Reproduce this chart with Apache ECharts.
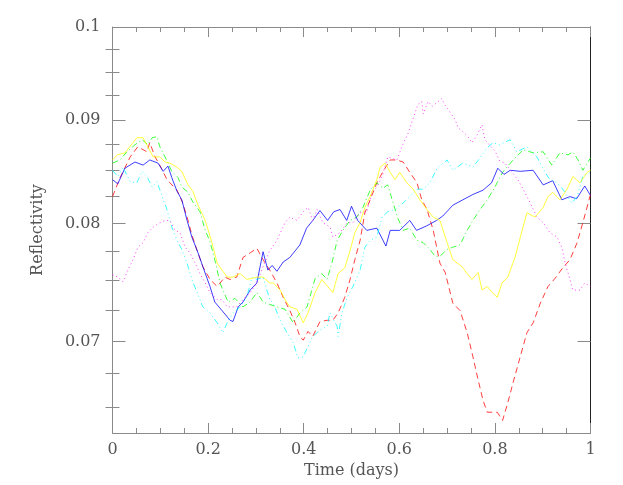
<!DOCTYPE html>
<html>
<head>
<meta charset="utf-8">
<script src="https://cdn.jsdelivr.net/npm/echarts@6/dist/echarts.min.js"></script>
<style>html,body{margin:0;padding:0;background:#fff}#c{width:623px;height:485px}</style>
</head>
<body>
<div id="c"></div>
<script>
// Each series: time (days) and reflectivity values
const blueT = [0,0.011,0.026,0.047,0.064,0.078,0.095,0.106,0.116,0.124,0.135,0.145,0.156,0.166,0.179,0.189,0.204,0.214,0.229,0.246,0.252,0.263,0.273,0.288,0.302,0.315,0.325,0.334,0.344,0.357,0.371,0.392,0.406,0.419,0.434,0.450,0.463,0.476,0.490,0.500,0.513,0.532,0.553,0.572,0.581,0.601,0.622,0.636,0.657,0.678,0.691,0.712,0.733,0.754,0.775,0.793,0.806,0.819,0.832,0.853,0.880,0.901,0.921,0.940,0.957,0.971,0.988,1];
const blueV = [0.0841,0.0837,0.0852,0.0858,0.0855,0.0860,0.0857,0.0849,0.0854,0.0843,0.0830,0.0822,0.0803,0.0788,0.0774,0.0762,0.0745,0.0732,0.0725,0.0717,0.0716,0.0728,0.0732,0.0742,0.0748,0.0775,0.0759,0.0763,0.0758,0.0766,0.0770,0.0781,0.0796,0.0803,0.0812,0.0803,0.0811,0.0813,0.0803,0.0816,0.0803,0.0794,0.0796,0.0780,0.0794,0.0794,0.0803,0.0794,0.0798,0.0803,0.0807,0.0817,0.0822,0.0827,0.0831,0.0838,0.0852,0.0846,0.0850,0.0849,0.0850,0.0836,0.0840,0.0822,0.0825,0.0823,0.0835,0.0826];

const redT = [0,0.016,0.037,0.053,0.072,0.078,0.089,0.099,0.114,0.135,0.147,0.158,0.166,0.177,0.189,0.204,0.219,0.235,0.246,0.260,0.273,0.288,0.302,0.315,0.329,0.344,0.357,0.371,0.382,0.392,0.399,0.409,0.419,0.434,0.449,0.461,0.472,0.486,0.497,0.507,0.518,0.528,0.539,0.553,0.566,0.581,0.595,0.608,0.622,0.637,0.647,0.658,0.671,0.685,0.696,0.712,0.727,0.742,0.754,0.765,0.775,0.784,0.805,0.816,0.827,0.838,0.853,0.867,0.880,0.895,0.911,0.926,0.942,0.957,0.972,0.984,1];
const redV = [0.0825,0.0843,0.0863,0.0873,0.0868,0.0877,0.0863,0.0855,0.0841,0.0831,0.0819,0.0803,0.0790,0.0776,0.0762,0.0751,0.0745,0.0753,0.0751,0.0753,0.0770,0.0774,0.0778,0.0768,0.0759,0.0748,0.0736,0.0725,0.0715,0.0704,0.0701,0.0708,0.0704,0.0716,0.0717,0.0717,0.0723,0.0736,0.0751,0.0768,0.0785,0.0810,0.0822,0.0838,0.0849,0.0860,0.0860,0.0858,0.0848,0.0838,0.0822,0.0813,0.0794,0.0765,0.0757,0.0731,0.0725,0.0707,0.0688,0.0670,0.0655,0.0646,0.0646,0.0640,0.0653,0.0668,0.0688,0.0707,0.0715,0.0731,0.0745,0.0752,0.0761,0.0768,0.0783,0.0801,0.0827];

const greenT = [0,0.016,0.030,0.047,0.062,0.074,0.083,0.093,0.099,0.110,0.124,0.137,0.145,0.158,0.168,0.183,0.194,0.204,0.214,0.225,0.231,0.242,0.256,0.273,0.288,0.302,0.315,0.329,0.344,0.361,0.378,0.392,0.407,0.417,0.424,0.438,0.449,0.459,0.470,0.482,0.497,0.511,0.524,0.539,0.553,0.566,0.576,0.587,0.597,0.608,0.622,0.637,0.650,0.664,0.675,0.685,0.700,0.712,0.727,0.742,0.754,0.769,0.784,0.800,0.816,0.838,0.859,0.880,0.901,0.919,0.936,0.953,0.963,0.974,0.984,1];
const greenV = [0.0857,0.0860,0.0868,0.0875,0.0880,0.0875,0.0882,0.0883,0.0873,0.0863,0.0849,0.0843,0.0834,0.0829,0.0820,0.0811,0.0794,0.0784,0.0768,0.0748,0.0742,0.0732,0.0735,0.0728,0.0732,0.0740,0.0732,0.0730,0.0728,0.0726,0.0715,0.0723,0.0728,0.0742,0.0752,0.0756,0.0751,0.0765,0.0785,0.0794,0.0803,0.0806,0.0815,0.0831,0.0838,0.0833,0.0836,0.0819,0.0805,0.0794,0.0796,0.0785,0.0783,0.0777,0.0771,0.0771,0.0777,0.0779,0.0781,0.0794,0.0803,0.0813,0.0822,0.0834,0.0848,0.0860,0.0870,0.0867,0.0868,0.0855,0.0867,0.0865,0.0868,0.0860,0.0850,0.0862];

const yellowT = [0,0.010,0.026,0.043,0.051,0.064,0.068,0.085,0.099,0.110,0.120,0.135,0.145,0.158,0.168,0.179,0.194,0.208,0.219,0.229,0.240,0.252,0.267,0.281,0.302,0.315,0.329,0.336,0.351,0.361,0.371,0.386,0.399,0.409,0.424,0.438,0.450,0.461,0.472,0.486,0.497,0.507,0.518,0.528,0.539,0.553,0.560,0.570,0.581,0.591,0.601,0.616,0.629,0.643,0.658,0.671,0.685,0.700,0.712,0.731,0.742,0.752,0.765,0.773,0.784,0.794,0.805,0.815,0.827,0.842,0.857,0.867,0.884,0.901,0.911,0.921,0.936,0.951,0.963,0.978,0.993,1];
const yellowV = [0.0860,0.0865,0.0867,0.0877,0.0882,0.0882,0.0883,0.0863,0.0863,0.0858,0.0857,0.0853,0.0849,0.0836,0.0830,0.0817,0.0803,0.0783,0.0765,0.0759,0.0753,0.0753,0.0756,0.0751,0.0753,0.0753,0.0748,0.0748,0.0742,0.0734,0.0728,0.0726,0.0715,0.0723,0.0740,0.0751,0.0745,0.0740,0.0756,0.0761,0.0776,0.0792,0.0801,0.0815,0.0825,0.0841,0.0853,0.0857,0.0848,0.0841,0.0848,0.0838,0.0832,0.0822,0.0813,0.0806,0.0803,0.0783,0.0768,0.0762,0.0756,0.0751,0.0757,0.0742,0.0745,0.0740,0.0736,0.0748,0.0753,0.0770,0.0794,0.0810,0.0806,0.0815,0.0825,0.0829,0.0822,0.0832,0.0844,0.0838,0.0848,0.0850];

const cyanT = [0,0.011,0.022,0.037,0.051,0.062,0.072,0.083,0.093,0.104,0.114,0.124,0.135,0.145,0.156,0.166,0.177,0.189,0.204,0.219,0.231,0.242,0.252,0.267,0.281,0.292,0.302,0.315,0.329,0.336,0.351,0.365,0.378,0.388,0.399,0.409,0.419,0.434,0.449,0.455,0.470,0.472,0.480,0.491,0.503,0.518,0.528,0.539,0.553,0.564,0.576,0.591,0.608,0.622,0.637,0.650,0.664,0.679,0.700,0.712,0.733,0.754,0.769,0.784,0.796,0.810,0.832,0.846,0.867,0.888,0.905,0.915,0.930,0.942,0.961,0.972,0.984,1];
const cyanV = [0.0850,0.0844,0.0853,0.0839,0.0838,0.0849,0.0844,0.0834,0.0839,0.0825,0.0813,0.0797,0.0785,0.0777,0.0765,0.0751,0.0740,0.0728,0.0723,0.0715,0.0707,0.0717,0.0723,0.0728,0.0736,0.0753,0.0751,0.0753,0.0734,0.0731,0.0717,0.0707,0.0699,0.0687,0.0688,0.0696,0.0704,0.0709,0.0712,0.0723,0.0712,0.0704,0.0723,0.0736,0.0745,0.0759,0.0779,0.0785,0.0788,0.0806,0.0811,0.0813,0.0819,0.0825,0.0832,0.0832,0.0838,0.0852,0.0860,0.0850,0.0857,0.0853,0.0862,0.0872,0.0877,0.0875,0.0880,0.0868,0.0873,0.0863,0.0848,0.0841,0.0838,0.0832,0.0819,0.0825,0.0844,0.0848];

const magentaT = [0,0.011,0.022,0.032,0.043,0.053,0.064,0.074,0.085,0.099,0.110,0.120,0.131,0.141,0.152,0.162,0.173,0.183,0.194,0.204,0.219,0.229,0.240,0.250,0.260,0.273,0.288,0.302,0.315,0.329,0.344,0.361,0.371,0.386,0.399,0.409,0.419,0.428,0.440,0.455,0.461,0.476,0.491,0.503,0.518,0.532,0.543,0.553,0.564,0.576,0.595,0.608,0.618,0.628,0.639,0.647,0.650,0.660,0.669,0.679,0.689,0.696,0.706,0.717,0.723,0.733,0.742,0.752,0.763,0.773,0.779,0.790,0.800,0.810,0.821,0.836,0.848,0.859,0.874,0.888,0.901,0.915,0.930,0.940,0.947,0.957,0.963,0.978,0.988,1];
const magentaV = [0.0755,0.0753,0.0749,0.0759,0.0768,0.0779,0.0783,0.0792,0.0797,0.0801,0.0803,0.0803,0.0794,0.0792,0.0779,0.0774,0.0765,0.0756,0.0748,0.0740,0.0734,0.0734,0.0728,0.0728,0.0728,0.0734,0.0740,0.0748,0.0762,0.0776,0.0785,0.0801,0.0806,0.0803,0.0811,0.0815,0.0803,0.0813,0.0801,0.0797,0.0788,0.0792,0.0801,0.0801,0.0810,0.0811,0.0829,0.0834,0.0844,0.0863,0.0860,0.0876,0.0886,0.0900,0.0916,0.0919,0.0906,0.0919,0.0914,0.0918,0.0922,0.0915,0.0908,0.0900,0.0892,0.0888,0.0884,0.0877,0.0885,0.0895,0.0880,0.0874,0.0869,0.0859,0.0857,0.0848,0.0841,0.0832,0.0819,0.0806,0.0801,0.0792,0.0788,0.0779,0.0765,0.0751,0.0742,0.0742,0.0748,0.0745];

const yMajorTicks = [0.07, 0.08, 0.09, 0.1];
const yMinorTicks = [0.065, 0.0675, 0.0725, 0.075, 0.0775, 0.0825, 0.085, 0.0875, 0.0925, 0.095, 0.0975];
const xTickLabels = ['0', '0.2', '0.4', '0.6', '0.8', '1'];

const FONT = 'DejaVu Serif';
const TXT = '#555';
const AX = '#8a8a8a';

function pairs(ts, vs) { return ts.map((t, i) => [t, vs[i]]); }

const chart = echarts.init(document.getElementById('c'), null, {renderer: 'canvas'});

const yBase = {
  type: 'log', logBase: 10, min: 0.063095734, max: 0.1,
  splitLine: {show: false}, minorTick: {show: false}
};

const series = [
  {name: 'red', color: '#ff0000', type: [6, 4], t: redT, v: redV},
  {name: 'green', color: '#00ff00', type: [6, 3, 1, 3], t: greenT, v: greenV},
  {name: 'blue', color: '#0000ff', type: 'solid', t: blueT, v: blueV},
  {name: 'cyan', color: '#00ffff', type: [6, 3, 1, 3, 1, 3, 1, 3], t: cyanT, v: cyanV},
  {name: 'magenta', color: '#ff00ff', type: [1, 3], t: magentaT, v: magentaV},
  {name: 'yellow', color: '#ffff00', type: 'solid', t: yellowT, v: yellowV}
].map(s => ({
  name: s.name, type: 'line', xAxisIndex: 0, yAxisIndex: 0,
  showSymbol: false, symbol: 'none', smooth: false,
  lineStyle: {color: s.color, width: 0.9, type: s.type, opacity: 0.85},
  itemStyle: {color: s.color},
  data: pairs(s.t, s.v)
}));

chart.setOption({
  animation: false,
  backgroundColor: '#fff',
  grid: {left: 112.5, right: 32.5, top: 27, bottom: 52, containLabel: false},
  xAxis: [
    {
      type: 'value', position: 'bottom', min: 0, max: 1, interval: 0.2,
      name: 'Time (days)', nameLocation: 'middle', nameGap: 21,
      nameTextStyle: {fontFamily: FONT, fontSize: 16, color: TXT},
      axisLine: {show: true, lineStyle: {color: AX, width: 1}},
      axisTick: {show: true, inside: true, length: 10, lineStyle: {color: AX}},
      minorTick: {show: true, splitNumber: 4, length: 5, lineStyle: {color: AX}},
      axisLabel: {show: true, margin: 9, fontFamily: FONT, fontSize: 16, color: TXT,
        formatter: (v) => xTickLabels[Math.round(v / 0.2)]},
      splitLine: {show: false}
    },
    {
      type: 'value', position: 'top', min: 0, max: 1, interval: 0.2,
      axisLine: {show: true, onZero: false, lineStyle: {color: AX, width: 1}},
      axisTick: {show: true, inside: true, length: 10, lineStyle: {color: AX}},
      minorTick: {show: true, splitNumber: 4, length: 5, lineStyle: {color: AX}},
      axisLabel: {show: false}, splitLine: {show: false}
    }
  ],
  yAxis: [
    Object.assign({}, yBase, {
      position: 'left',
      name: 'Reflectivity', nameLocation: 'middle', nameGap: 67, nameRotate: 90,
      nameTextStyle: {fontFamily: FONT, fontSize: 16, color: TXT},
      axisLine: {show: true, onZero: false, lineStyle: {color: AX, width: 1}},
      axisTick: {show: true, inside: true, length: 13, customValues: yMajorTicks, lineStyle: {color: AX}},
      axisLabel: {show: true, margin: 12, fontFamily: FONT, fontSize: 16, color: TXT,
        customValues: yMajorTicks, formatter: (v) => String(+v.toPrecision(3))}
    }),
    Object.assign({}, yBase, {
      position: 'right',
      axisLine: {show: true, onZero: false, lineStyle: {color: '#222', width: 1}},
      axisTick: {show: true, inside: true, length: 13, customValues: yMajorTicks, lineStyle: {color: AX}},
      axisLabel: {show: false}
    }),
    Object.assign({}, yBase, {
      position: 'left',
      axisLine: {show: false},
      axisTick: {show: true, inside: true, length: 7, customValues: yMinorTicks, lineStyle: {color: AX}},
      axisLabel: {show: false, customValues: yMinorTicks}
    }),
    Object.assign({}, yBase, {
      position: 'right',
      axisLine: {show: false},
      axisTick: {show: true, inside: true, length: 7, customValues: yMinorTicks, lineStyle: {color: AX}},
      axisLabel: {show: false, customValues: yMinorTicks}
    })
  ],
  series: series
});
</script>
</body>
</html>
